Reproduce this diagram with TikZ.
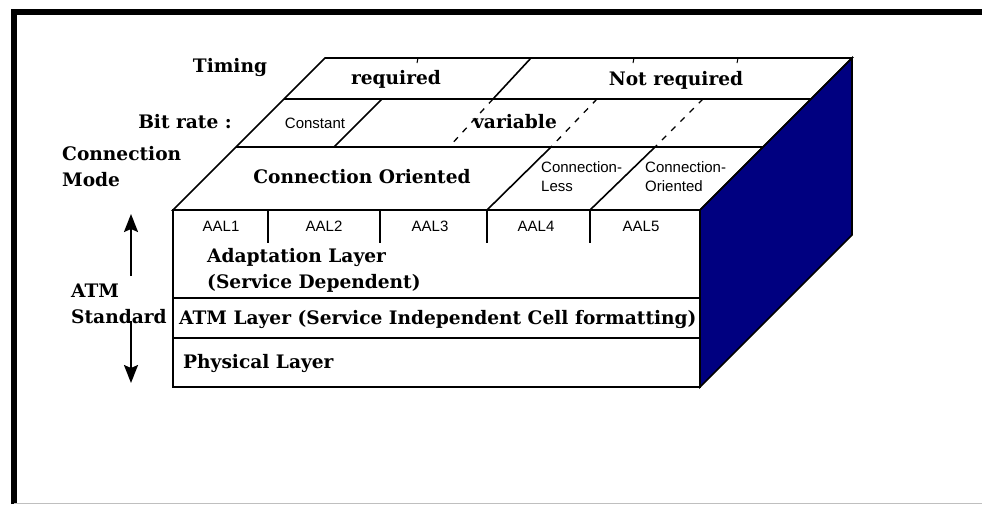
\documentclass[tikz,border=0pt]{standalone}
\usepackage{fontspec}
\setmainfont{DejaVu Serif}
\newfontfamily\cellfont{Liberation Sans}
\usetikzlibrary{arrows.meta}
\definecolor{sidenavy}{RGB}{0,0,128}
\tikzstyle{layertext} = [align=left,inner sep=0pt,font=\bfseries\fontsize{18.6}{26}\selectfont]
\tikzstyle{celltext} = [align=left,inner sep=0pt,font=\cellfont\fontsize{15}{19}\selectfont]
\tikzstyle{boxline} = [line width=1.6pt,line join=miter]
\tikzstyle{hidden} = [line width=1.3pt,dash pattern=on 6pt off 7pt]
\tikzstyle{stdarrow} = [line width=2pt,-{Stealth[length=18pt,width=14pt,inset=3pt]}]
\begin{document}
\begin{tikzpicture}[x=1pt,y=-1pt]
				\useasboundingbox (0,0) rectangle (982,504);
				% frame
				\draw [line width=6pt] (14,504) -- (14,11.5) -- (982,11.5);
				\draw [gray!50,line width=1pt] (14,503.5) -- (982,503.5);
				% block corners
				\coordinate (fa) at (173,210);
				\coordinate (fb) at (700,210);
				\coordinate (fc) at (700,387);
				\coordinate (ba) at (325,58);
				\coordinate (bb) at (852,58);
				\coordinate (bc) at (852,235);
				\filldraw [boxline,fill=sidenavy] (fb) -- (bb) -- (bc) -- (fc) -- cycle;
				\draw [boxline] (fa) -- (ba) -- (bb) -- (fb) -- cycle;
				\draw [boxline] (fa) rectangle (fc);
				% rows
				\draw [boxline] (284,99) -- (811,99);
				\draw [boxline] (236,147) -- (763,147);
				\draw [boxline] (173,298) -- (700,298);
				\draw [boxline] (173,338) -- (700,338);
				% cell borders
				\draw [boxline] (531,58) -- (493,99);
				\draw [boxline] (382,99) -- (334,147);
				\draw [hidden] (493,99) -- (449,147);
				\draw [hidden] (597,99) -- (551,147);
				\draw [hidden] (703,99) -- (655,147);
				\draw [boxline] (551,147) -- (487,210);
				\draw [boxline] (655,147) -- (590,210);
				\draw [boxline] (268,210) -- (268,243);
				\draw [boxline] (380,210) -- (380,243);
				\draw [boxline] (487,210) -- (487,243);
				\draw [boxline] (590,210) -- (590,243);
				\draw [line width=1pt] (418,58) -- (417,63);
				\draw [line width=1pt] (634,58) -- (633,63);
				\draw [line width=1pt] (738,58) -- (737,63);
				% texts
				\node (timing) [layertext] at (230,67) {Timing};
				\node (bitrate) [layertext] at (185,122) {Bit rate :};
				\node (connmode) [layertext,anchor=west] at (62,167) {Connection\\Mode};
				\node (req) [layertext] at (396,79) {required};
				\node (notreq) [layertext] at (676,80) {Not required};
				\node (const) [celltext] at (315,123) {Constant};
				\node (var) [layertext] at (515,122) {variable};
				\node (connor) [layertext] at (362,177) {Connection Oriented};
				\node (connless) [celltext,anchor=west] at (541,177) {Connection-\\Less};
				\node (connorient) [celltext,anchor=west] at (645,177) {Connection-\\Oriented};
				\node (aal1) [celltext] at (221,226) {AAL1};
				\node (aal2) [celltext] at (324,226) {AAL2};
				\node (aal3) [celltext] at (430,226) {AAL3};
				\node (aal4) [celltext] at (536,226) {AAL4};
				\node (aal5) [celltext] at (641,226) {AAL5};
				\node (adapt) [layertext,anchor=west] at (207,270) {Adaptation Layer\\(Service Dependent)};
				\node (atmlayer) [layertext,anchor=west] at (179,319) {ATM Layer (Service Independent Cell formatting)};
				\node (phys) [layertext,anchor=west] at (183,363) {Physical Layer};
				\node (atmstd) [layertext,anchor=west] at (71,304) {ATM\\Standard};
				% arrows
				\coordinate (upfoot) at (131,276);
				\coordinate (uptip) at (131,214);
				\coordinate (downfoot) at (131,321);
				\coordinate (downtip) at (131,383);
				\draw [stdarrow] (upfoot) -- (uptip);
				\draw [stdarrow] (downfoot) -- (downtip);
			\end{tikzpicture}
\end{document}
